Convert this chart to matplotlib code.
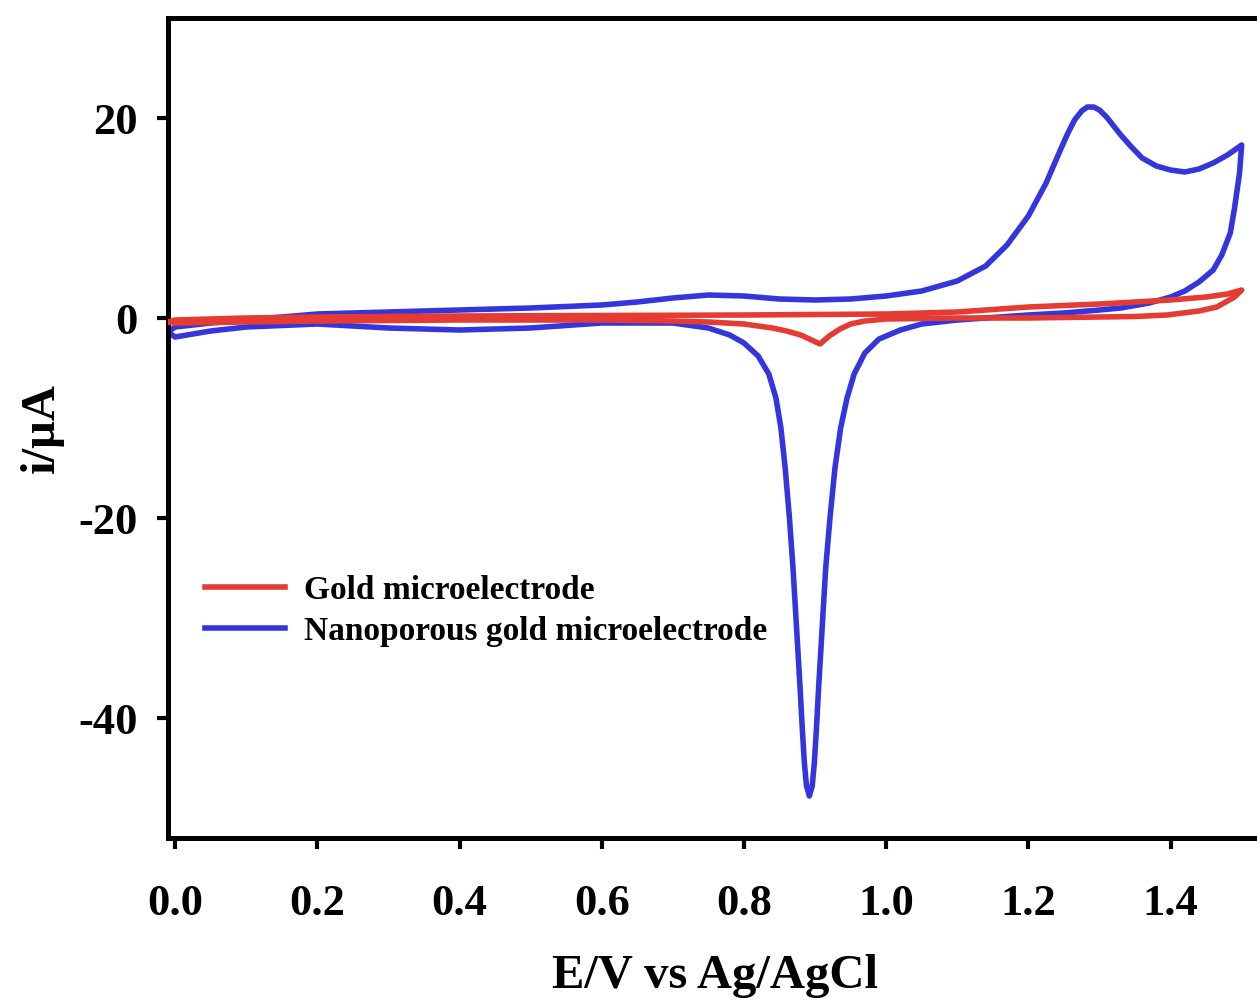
import matplotlib
matplotlib.use("Agg")
import matplotlib.pyplot as plt

# gold microelectrode, anodic sweep then cathodic sweep
gold_e = [-0.01, 0.0, 0.1, 0.2, 0.4, 0.6, 0.8, 1.0, 1.1, 1.16, 1.2, 1.3, 1.4, 1.45, 1.48, 1.50,
          1.49, 1.465, 1.44, 1.395, 1.35, 1.3, 1.2, 1.1, 1.0, 0.97, 0.95, 0.935, 0.92, 0.907,
          0.895, 0.88, 0.86, 0.84, 0.8, 0.75, 0.7, 0.6, 0.4, 0.2, 0.1, 0.0, -0.01]
gold_i = [-0.4, -0.2, 0.0, 0.1, 0.2, 0.25, 0.3, 0.4, 0.6, 0.9, 1.1, 1.4, 1.8, 2.1, 2.4, 2.8,
          2.1, 1.1, 0.7, 0.3, 0.15, 0.1, 0.0, 0.0, -0.1, -0.3, -0.6, -1.1, -1.8, -2.6,
          -2.2, -1.7, -1.3, -1.0, -0.6, -0.4, -0.3, -0.2, -0.2, -0.3, -0.4, -0.5, -0.4]

# nanoporous gold microelectrode
np_e = [-0.01, 0.0, 0.05, 0.1, 0.2, 0.3, 0.4, 0.5, 0.6, 0.65, 0.7, 0.75, 0.8, 0.85, 0.9, 0.95,
        1.0, 1.05, 1.1, 1.14, 1.17, 1.2, 1.225, 1.245, 1.255, 1.265, 1.275, 1.283, 1.292, 1.30,
        1.31, 1.32, 1.33, 1.345, 1.36, 1.38, 1.40, 1.42, 1.44, 1.46, 1.48, 1.50,
        1.497, 1.49, 1.484, 1.472, 1.46, 1.44, 1.42, 1.40, 1.37, 1.33, 1.30, 1.25, 1.2, 1.16,
        1.1, 1.05, 1.02, 0.99, 0.97, 0.955, 0.945, 0.936, 0.928, 0.921, 0.915, 0.91, 0.905,
        0.902, 0.899, 0.896, 0.892, 0.888, 0.885, 0.882, 0.879, 0.874, 0.869, 0.864, 0.858,
        0.852, 0.845, 0.835, 0.82, 0.80, 0.78, 0.75, 0.7, 0.6, 0.5, 0.4, 0.3, 0.2, 0.1, 0.05,
        0.0, -0.01]
np_i = [-1.4, -0.9, -0.5, -0.2, 0.4, 0.6, 0.8, 1.0, 1.3, 1.6, 2.0, 2.3, 2.2, 1.9, 1.8, 1.9,
        2.2, 2.7, 3.7, 5.2, 7.3, 10.2, 13.5, 16.8, 18.4, 19.8, 20.7, 21.1, 21.1, 20.8,
        20.1, 19.2, 18.3, 17.1, 16.0, 15.2, 14.8, 14.6, 14.9, 15.5, 16.3, 17.3,
        14.5, 11.0, 8.5, 6.3, 4.8, 3.6, 2.7, 2.1, 1.5, 1.0, 0.8, 0.5, 0.3, 0.1,
        -0.2, -0.6, -1.2, -2.1, -3.5, -5.6, -8.0, -11.0, -15.0, -20.0, -25.0, -31.0, -37.0,
        -41.0, -44.5, -46.8, -47.8, -46.8, -44.5, -41.0, -37.0, -31.0, -25.0, -20.0, -15.0,
        -11.0, -8.0, -5.6, -3.8, -2.5, -1.7, -1.0, -0.5, -0.5, -1.0, -1.2, -1.0, -0.6, -0.9,
        -1.3, -1.9, -1.4]

xticks = [0.0, 0.2, 0.4, 0.6, 0.8, 1.0, 1.2, 1.4]
yticks = [-40, -20, 0, 20]

plt.rcParams['font.family'] = ['Liberation Serif', 'DejaVu Serif']
plt.rcParams['font.weight'] = 'bold'
plt.rcParams['axes.unicode_minus'] = False

fig = plt.figure(figsize=(12.57, 10.02), dpi=100)
ax = fig.add_axes([168 / 1257, 1 - 838 / 1002, 1095 / 1257, 820 / 1002])

ax.plot(np_e, np_i, color='#3535DD', lw=4.0, label='Nanoporous gold microelectrode',
        zorder=2, solid_joinstyle='round')
ax.plot(gold_e, gold_i, color='#E63B33', lw=4.0, label='Gold microelectrode',
        zorder=3, solid_joinstyle='round')

ax.set_xlim(-0.01, 1.53)
ax.set_ylim(-52, 30)
ax.set_xticks(xticks)
ax.set_xticklabels([f"{t:.1f}" for t in xticks])
ax.set_yticks(yticks)

for s in ax.spines.values():
    s.set_linewidth(3.6)
ax.tick_params(direction='out', length=8, width=3, labelsize=32)
ax.tick_params(axis='x', pad=25)
ax.tick_params(axis='y', pad=14)

ax.set_xlabel('E/V vs Ag/AgCl', fontsize=35, fontweight='bold', labelpad=22)
ax.set_ylabel('i/\u03bcA', fontsize=35, fontweight='bold', labelpad=10)

h, l = ax.get_legend_handles_labels()
ax.legend(h[::-1], l[::-1], loc='center left', bbox_to_anchor=(0.034, 0.277), frameon=False,
          fontsize=24, handlelength=2.4, handletextpad=0.55, labelspacing=0.3,
          borderpad=0, borderaxespad=0)

fig.savefig('out.png', dpi=100)
